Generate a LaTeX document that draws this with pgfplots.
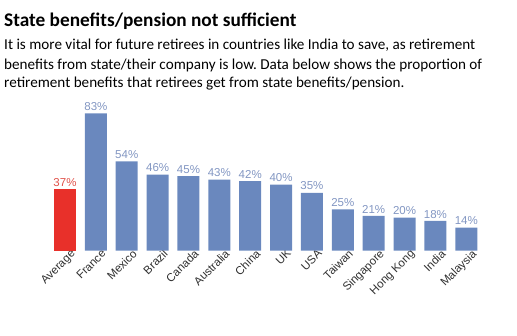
\documentclass[border=0pt]{standalone}
\usepackage{fontspec}
\setmainfont{Carlito}
\newfontfamily\arial{Liberation Sans}
\usepackage{pgfplots}
\pgfplotsset{compat=1.18}
\definecolor{barblue}{HTML}{6A88BE}
\definecolor{barred}{HTML}{E8302A}
\definecolor{lblblue}{HTML}{8296C2}
\definecolor{lblred}{HTML}{E0524A}
\definecolor{ticktxt}{HTML}{303030}
\frenchspacing
\begin{document}
\begin{tikzpicture}[x=1pt,y=1pt]
\path[use as bounding box] (0,0) rectangle (517,335);
\node[anchor=base west, inner sep=0pt, font=\fontsize{19.3}{21}\selectfont\bfseries] at (4,308) {State benefits/pension not sufficient};
\node[anchor=base west, inner sep=0pt, font=\fontsize{15.15}{18}\selectfont] at (4,285) {It is more vital for future retirees in countries like India to save, as retirement};
\node[anchor=base west, inner sep=0pt, font=\fontsize{15.15}{18}\selectfont] at (4,265.5) {benefits from state/their company is low. Data below shows the proportion of};
\node[anchor=base west, inner sep=0pt, font=\fontsize{15.15}{18}\selectfont] at (4,247) {retirement benefits that retirees get from state benefits/pension.};
\begin{axis}[
  at={(49.57pt,84.3pt)}, anchor=south west,
  scale only axis, x=30.87pt, y=1.655pt,
  xmin=-0.5, xmax=13.5, ymin=0, ymax=90,
  axis line style={draw=none},
  major tick length=0pt,
  ytick=\empty,
  xtick={0,...,13},
  xticklabels={Average,France,Mexico,Brazil,Canada,Australia,China,UK,USA,Taiwan,Singapore,Hong Kong,India,Malaysia},
  xticklabel style={rotate=45, anchor=north east, font=\arial\fontsize{11.5}{12}\selectfont, text=ticktxt, inner sep=1pt, xshift=6pt, yshift=-1pt},
  ybar, bar width=22pt,
  /pgf/number format/assume math mode=true,
  nodes near coords={\pgfmathprintnumber{\pgfplotspointmeta}\%},
  nodes near coords style={font=\arial\fontsize{11.5}{12}\selectfont, inner sep=2.5pt},
  clip=false,
]
\addplot[fill=barred, draw=none, bar shift=0pt, nodes near coords style={text=lblred}] coordinates {(0,37)};
\addplot[fill=barblue, draw=none, bar shift=0pt, nodes near coords style={text=lblblue}] coordinates {
(1,83) (2,54) (3,46) (4,45) (5,43) (6,42) (7,40) (8,35) (9,25) (10,21) (11,20) (12,18) (13,14)};
\end{axis}
\end{tikzpicture}
\end{document}
